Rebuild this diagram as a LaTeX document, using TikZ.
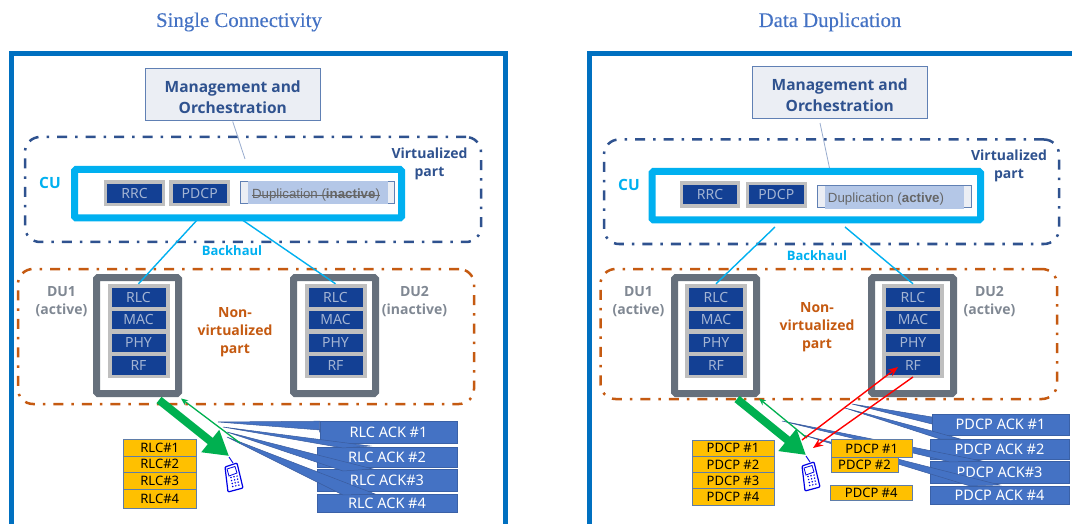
\documentclass[tikz,border=0pt]{standalone}
\usepackage{fontspec}
\setmainfont{Open Sans}
\newfontfamily\titlefont[FakeBold=0.25]{Liberation Serif}
\newfontfamily\dupfont{Liberation Sans}
\newfontfamily\cellfont{Noto Sans}
\usetikzlibrary{arrows.meta}
\definecolor{frameblue}{HTML}{0070C0}
\definecolor{titleblue}{HTML}{4472C4}
\definecolor{navy}{HTML}{2F528F}
\definecolor{cyanb}{HTML}{00B0F0}
\definecolor{orangeb}{HTML}{C55A11}
\definecolor{cellblue}{HTML}{134094}
\definecolor{celltext}{HTML}{A3B4D3}
\definecolor{slate}{HTML}{66707C}
\definecolor{labgray}{HTML}{808893}
\definecolor{mgmtfill}{HTML}{EBEEF4}
\definecolor{mgmtline}{HTML}{6080B4}
\definecolor{hilite}{HTML}{B4C7E7}
\definecolor{ackblue}{HTML}{4472C4}
\definecolor{ackedge}{HTML}{3A5C9E}
\definecolor{yel}{HTML}{FFC000}
\definecolor{yeledge}{HTML}{5F7DA8}
\definecolor{greenb}{HTML}{00B050}
\newcommand\fsz[2]{\fontsize{#1}{#2}\selectfont}
% \pxbox{style}{name}{x1}{y1}{x2}{y2}{text}
\newcommand\pxbox[7]{%
  \pgfmathsetmacro\bxw{(#5)-(#3)}\pgfmathsetmacro\bxh{(#6)-(#4)}%
  \pgfmathsetmacro\bxx{((#3)+(#5))/2}\pgfmathsetmacro\bxy{((#4)+(#6))/2}%
  \node[#1,minimum width=\bxw pt,minimum height=\bxh pt] (#2) at (\bxx,\bxy) {#7};}
% \dustack{suffix}{x of du left}{x of stack left}
\newcommand\dustack[3]{%
  \pxbox{dubox}{du#1}{#2+3.5}{277.5}{#2+85.5}{393.5}{}
  \pxbox{stack}{stack#1}{#3}{284}{#3+62}{378}{}
  \pxbox{cell}{rlc#1}{#3+4}{288}{#3+58}{306.5}{RLC}
  \pxbox{cell}{mac#1}{#3+4}{310.5}{#3+58}{329}{MAC}
  \pxbox{cell}{phy#1}{#3+4}{333.5}{#3+58}{352}{PHY}
  \pxbox{cell}{rf#1}{#3+4}{356}{#3+58}{375}{RF}}
\newcommand\phoneat[2]{%
  \begin{scope}[shift={(#1,#2)},phone]
    \draw (4,0) -- (8,6);
    \draw[line width=1.2pt,fill=white,rounded corners=1pt] (0,10) -- (12,6) -- (18,31) -- (3,35) -- cycle;
    \draw[line width=.8pt] (2,12) -- (10,9.5) -- (12,16) -- (4,19) -- cycle;
    \foreach \a in {0,1,2} \foreach \b in {0,1,2,3}
      \fill (6+\a*3+\b*.6,20.5-\a*.7+\b*3) circle (.85);
  \end{scope}}
\tikzset{
  panel/.style={draw=frameblue,line width=5pt,line join=miter},
  title/.style={text=titleblue,font=\titlefont\fsz{20.8}{24}},
  mgmt/.style={draw=mgmtline,fill=mgmtfill,line width=1pt,inner sep=0pt},
  mgmttext/.style={text=navy,font=\bfseries\fsz{15.5}{21},align=center,inner sep=0pt},
  mgmtlink/.style={draw=mgmtline!65,line width=.8pt},
  virt/.style={draw=navy,line width=2.5pt,rounded corners=15pt,dash pattern=on 10pt off 8pt on 2.5pt off 8pt},
  nonvirt/.style={draw=orangeb,line width=2.5pt,rounded corners=15pt,dash pattern=on 10pt off 8pt on 2.5pt off 8pt},
  cubox/.style={draw=cyanb,fill=white,line width=7pt,rounded corners=1.5pt,inner sep=0pt},
  backhaul/.style={draw=cyanb,line width=1.4pt},
  protoouter/.style={draw=none,fill=black!25,inner sep=0pt},
  cell/.style={fill=cellblue,text=celltext,font=\cellfont\fsz{14}{16},inner sep=0pt},
  dubox/.style={draw=slate,fill=white,line width=7pt,rounded corners=1.5pt,inner sep=0pt},
  stack/.style={fill=black!25,inner sep=0pt},
  lab/.style={font=\bfseries\fsz{14}{18},align=center,inner sep=0pt},
  dubel/.style={lab,text=labgray},
  virtbel/.style={lab,text=navy},
  nvbel/.style={lab,text=orangeb},
  cyanbel/.style={lab,text=cyanb},
  dupbox/.style={draw=mgmtline,fill=mgmtfill,line width=1pt,inner sep=0pt},
  duphi/.style={fill=hilite,inner sep=0pt},
  duptext/.style={text=black!60,font=\dupfont\fsz{13.3}{16},inner sep=0pt},
  strike/.style={draw=black!60,line width=.8pt},
  ack/.style={fill=ackblue,draw=ackblue!85!black,line width=.6pt,text=white,font=\cellfont\fsz{14.5}{17},inner sep=0pt},
  wedge/.style={fill=ackblue,draw=ackedge,line width=.5pt},
  yellowbox/.style={fill=yel,draw=yeledge,line width=1pt,text=black,font=\cellfont\fsz{13}{15},inner sep=0pt},
  bigarrow/.style={draw=greenb,line width=8pt,-{Triangle[length=24pt,width=27pt]}},
  thinarrow/.style={draw=greenb,line width=1.3pt,-{Stealth[length=7pt,width=6pt]}},
  redarrow/.style={draw=red,line width=1.4pt,-{Stealth[length=10pt,width=8pt]}},
  phone/.style={draw=blue!90!black,fill=blue!90!black,line width=.9pt},
}
\begin{document}
\begin{tikzpicture}[x=1pt,y=-1pt]
\useasboundingbox (0,0) rectangle (1072,524);
\fill[white] (0,0) rectangle (1072,524);

% ---------- LEFT ----------
\node[title] (titleL) at (239,22) {Single Connectivity};
\draw[panel] (11.5,524) -- (11.5,54) -- (505,54) -- (505,524);
\pxbox{virt}{virtL}{25}{137}{481}{242}{}
\pxbox{mgmt}{mgmtL}{145.5}{68.5}{320}{121}{}
\node[mgmttext] (mgmtTL) at (232.75,97) {Management and\\Orchestration};
\pxbox{cubox}{cuL}{74.5}{169.5}{401.5}{218}{}
\coordinate (mgmtendL) at (245,159);
\draw[mgmtlink] (mgmtL.south) -- (mgmtendL);
\pxbox{protoouter}{rrcoL}{104}{180}{165}{206.5}{}
\pxbox{cell}{rrcL}{107}{184}{162}{203}{RRC}
\pxbox{protoouter}{pdcpoL}{169}{180}{230}{206.5}{}
\pxbox{cell}{pdcpL}{172.5}{184}{227}{203}{PDCP}
\pxbox{dupbox}{dupL}{240.5}{181.5}{394.5}{204}{}
\pxbox{duphi}{duphiL}{248}{181}{388}{204.5}{}
\node[duptext] (duptL) at (316,195) {Duplication (\textbf{inactive})};
\draw[strike] (duptL.west) -- (duptL.east);
\node[cyanbel,font=\bfseries\fsz{15.5}{18}] (cuTL) at (50,182.5) {CU};
\node[virtbel] (virtTL) at (429.5,164) {Virtualized\\part};
\pxbox{nonvirt}{nvL}{18}{269}{474}{404}{}
\dustack{1L}{93}{107.5}
\dustack{2L}{290}{304.5}
\coordinate (bhaL) at (198,219);
\coordinate (bhbL) at (238,217);
\draw[backhaul] (bhaL) -- (stack1L.north);
\draw[backhaul] (bhbL) -- (stack2L.north);
\node[cyanbel,font=\bfseries\fsz{13}{16}] (bhTL) at (232,251) {Backhaul};
\node[dubel] (du1TL) at (61.5,302) {DU1\\(active)};
\node[dubel] (du2TL) at (414.5,302) {DU2\\(inactive)};
\node[nvbel] (nvTL) at (235,332.5) {Non-\\virtualized\\part};
% acks and wedges
\pxbox{ack}{ack1L}{320}{421.5}{457}{443}{RLC ACK \#1}
\pxbox{ack}{ack2L}{317}{447}{457}{467}{RLC ACK \#2}
\pxbox{ack}{ack3L}{317}{469.5}{457}{491}{RLC ACK\#3}
\pxbox{ack}{ack4L}{317}{494}{457}{512}{RLC ACK \#4}
\coordinate (w1L) at (218,422);
\coordinate (w2L) at (223,427);
\coordinate (w3L) at (227,432);
\coordinate (w4L) at (227,437);
\fill[wedge] (w1L) -- (ack1L.north west) -- (ack1L.west) -- (320,430) -- cycle;
\fill[wedge] (w2L) -- (370,446) -- (343,448) -- cycle;
\fill[wedge] (w3L) -- (373,469) -- (343,471) -- cycle;
\fill[wedge] (w4L) -- (375,494) -- (343,495) -- cycle;
\pxbox{yellowbox}{y1L}{123.5}{439.5}{196}{456}{RLC\#1}
\pxbox{yellowbox}{y2L}{123.5}{456}{196}{472.5}{RLC\#2}
\pxbox{yellowbox}{y3L}{123.5}{472.5}{196}{489.5}{RLC\#3}
\pxbox{yellowbox}{y4L}{123.5}{489.5}{196}{508.5}{RLC\#4}
\coordinate (gaL) at (159,400);
\coordinate (gbL) at (229,456);
\coordinate (gcL) at (240,443);
\coordinate (gdL) at (181,398.5);
\draw[bigarrow] (gaL) -- (gbL);
\draw[thinarrow] (gcL) -- (gdL);
\phoneat{225}{457}

% ---------- RIGHT ----------
\node[title] (titleR) at (830,22) {Data Duplication};
\draw[panel] (589.5,524) -- (589.5,54) -- (1074,54);
\pxbox{virt}{virtR}{604}{139.5}{1059}{244}{}
\pxbox{mgmt}{mgmtR}{752.5}{66.5}{927}{119}{}
\node[mgmttext] (mgmtTR) at (839.75,95) {Management and\\Orchestration};
\pxbox{cubox}{cuR}{652}{171.5}{980.5}{220}{}
\coordinate (mgmtendR) at (829.5,168);
\coordinate (mgmtstartR) at (820,123);
\draw[mgmtlink] (mgmtstartR) -- (mgmtendR);
\pxbox{protoouter}{rrcoR}{679.5}{181.5}{740}{208}{}
\pxbox{cell}{rrcR}{683}{185.5}{737}{204.5}{RRC}
\pxbox{protoouter}{pdcpoR}{745.5}{182}{807}{208}{}
\pxbox{cell}{pdcpR}{749}{185.5}{803.5}{204.5}{PDCP}
\pxbox{dupbox}{dupR}{817}{186}{971.5}{208}{}
\pxbox{duphi}{duphiR}{825}{186}{964}{209.5}{}
\node[duptext] (duptR) at (886,199) {Duplication (\textbf{active})};
\node[cyanbel,font=\bfseries\fsz{15.5}{18}] (cuTR) at (629,184.5) {CU};
\node[virtbel] (virtTR) at (1009,166) {Virtualized\\part};
\pxbox{nonvirt}{nvR}{600.5}{269}{1057}{399}{}
\dustack{1R}{671}{685}
\dustack{2R}{868}{882}
\coordinate (bhaR) at (775,227);
\coordinate (bhbR) at (845,227);
\draw[backhaul] (bhaR) -- (stack1R.north);
\draw[backhaul] (bhbR) -- (stack2R.north);
\node[cyanbel,font=\bfseries\fsz{13}{16}] (bhTR) at (817,256) {Backhaul};
\node[dubel] (du1TR) at (638.5,302) {DU1\\(active)};
\node[dubel] (du2TR) at (989.5,302) {DU2\\(active)};
\node[nvbel] (nvTR) at (817,327.5) {Non-\\virtualized\\part};
\pxbox{ack}{ack1R}{932}{414}{1069}{435}{PDCP ACK \#1}
\pxbox{ack}{ack2R}{930}{439}{1069}{459}{PDCP ACK \#2}
\pxbox{ack}{ack3R}{930}{461.5}{1069}{483}{PDCP ACK\#3}
\pxbox{ack}{ack4R}{930}{486}{1069}{504}{PDCP ACK \#4}
\coordinate (w1R) at (852,404);
\coordinate (w2R) at (845,408);
\coordinate (w3R) at (782,421);
\coordinate (w4R) at (803,435);
\fill[wedge] (w1R) -- (932,417) -- (932,424) -- cycle;
\fill[wedge] (w2R) -- (932,431) -- (960,439) -- (940,439) -- cycle;
\fill[wedge] (w3R) -- (982,461) -- (950,462) -- cycle;
\fill[wedge] (w4R) -- (1000,485) -- (970,486) -- cycle;
\pxbox{yellowbox}{y1R}{692}{440}{774}{456.5}{PDCP \#1}
\pxbox{yellowbox}{y2R}{692}{456.5}{774}{472.5}{PDCP \#2}
\pxbox{yellowbox}{y3R}{692}{472.5}{774}{488.5}{PDCP \#3}
\pxbox{yellowbox}{y4R}{692}{488.5}{774}{505}{PDCP \#4}
\pxbox{yellowbox}{y5R}{831}{439.5}{912.5}{457.5}{PDCP \#1}
\pxbox{yellowbox}{y6R}{831}{457.5}{898}{472.5}{PDCP \#2}
\pxbox{yellowbox}{y7R}{830}{485}{912.5}{500}{PDCP \#4}
\coordinate (gaR) at (737,399);
\coordinate (gbR) at (806,455);
\coordinate (gcR) at (807,438);
\coordinate (gdR) at (759,398.5);
\draw[bigarrow] (gaR) -- (gbR);
\draw[thinarrow] (gcR) -- (gdR);
\coordinate (raR) at (802,440);
\coordinate (rbR) at (898,367);
\coordinate (rcR) at (913,377);
\coordinate (rdR) at (813,448);
\draw[redarrow] (raR) -- (rbR);
\draw[redarrow] (rcR) -- (rdR);
\phoneat{802}{456}
\end{tikzpicture}
\end{document}
